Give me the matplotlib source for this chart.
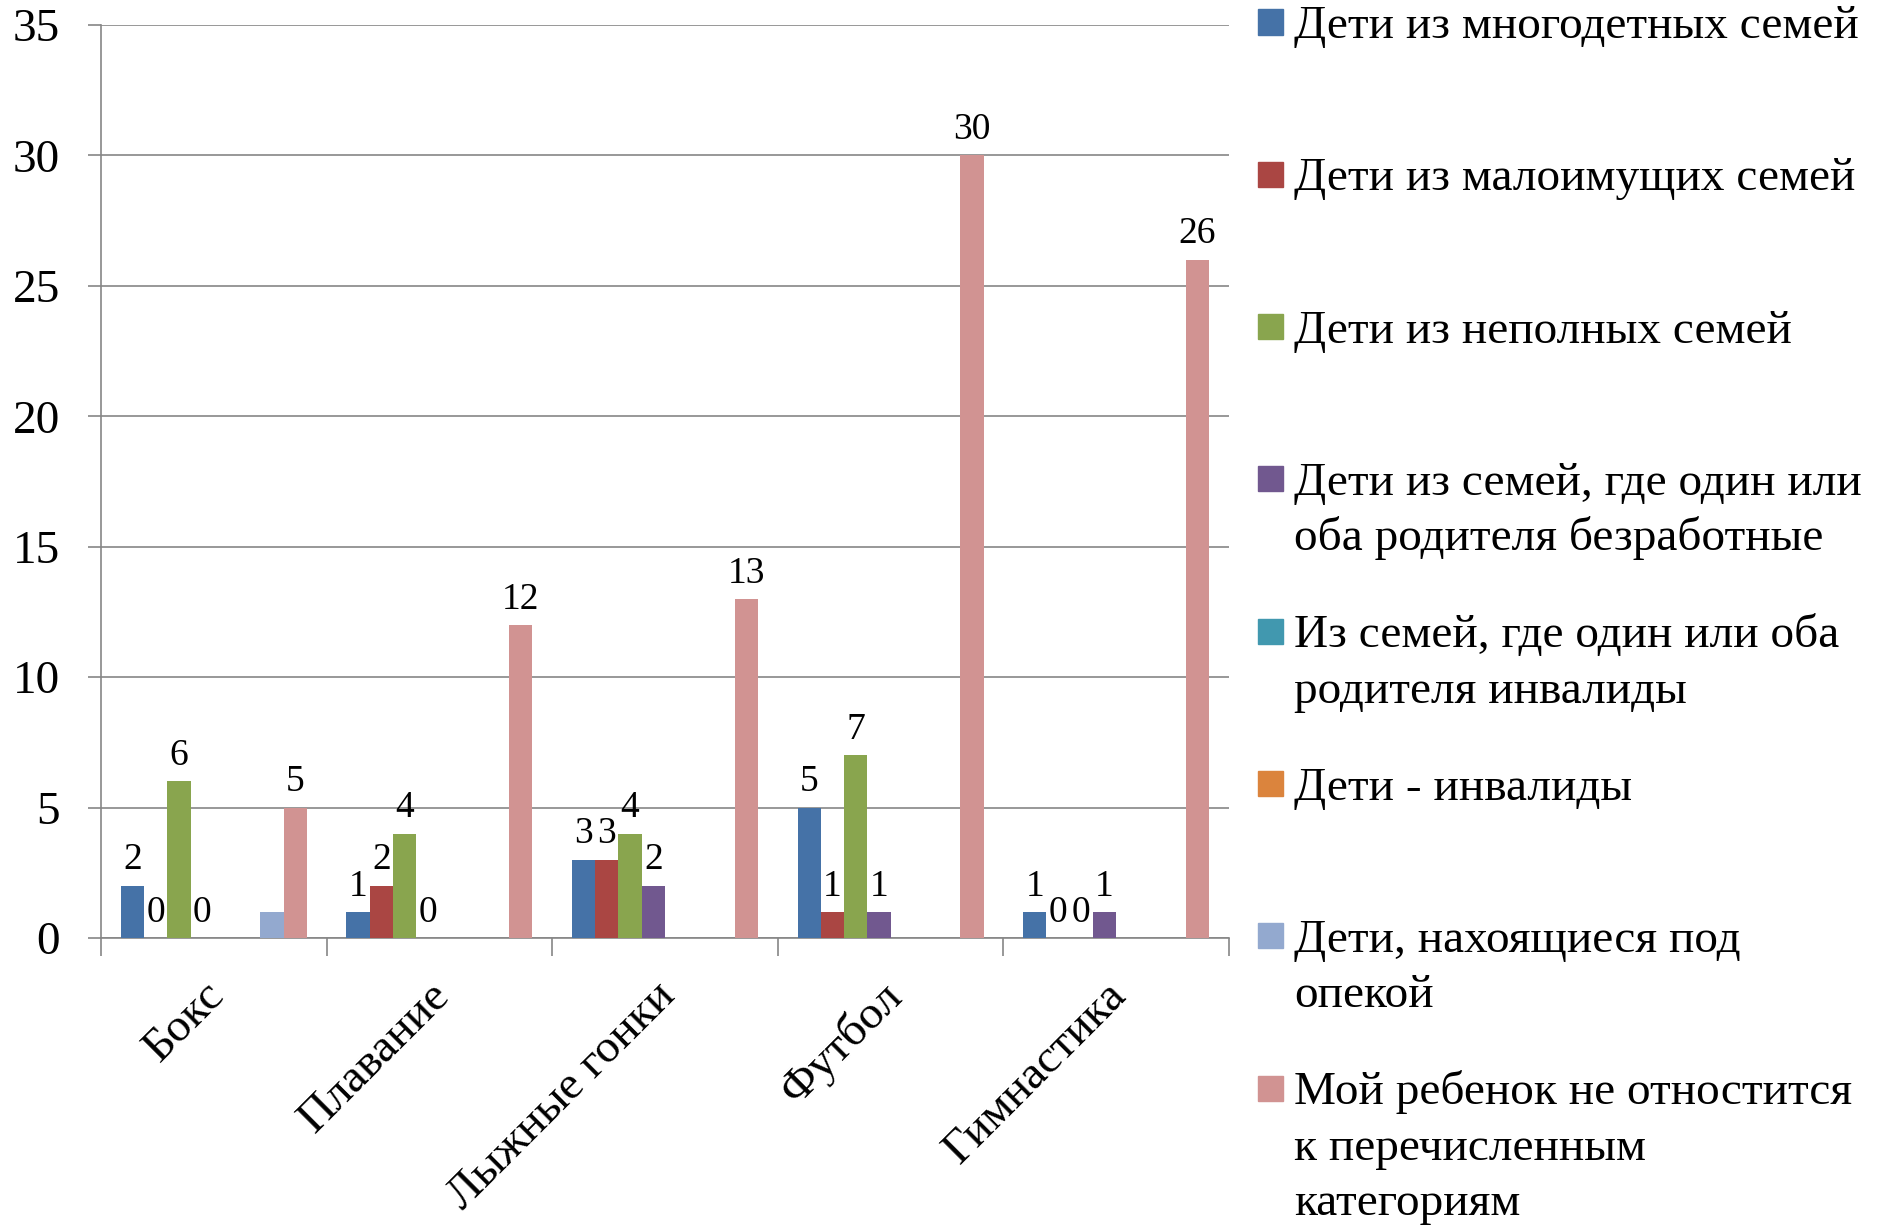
import numpy as np
from matplotlib import pyplot as plt
from matplotlib.patches import Rectangle
from matplotlib.transforms import ScaledTranslation

plt.rcParams['font.family'] = ['Liberation Serif', 'DejaVu Serif']

categories = ['Бокс', 'Плавание', 'Лыжные гонки', 'Футбол', 'Гимнастика']
series_names = [
    'Дети из многодетных семей',
    'Дети из малоимущих семей',
    'Дети из неполных семей',
    'Дети из семей, где один или\nоба родителя безработные',
    'Из семей, где один или оба\nродителя инвалиды',
    'Дети - инвалиды',
    'Дети, нахоящиеся под\nопекой',
    'Мой ребенок не отностится\nк перечисленным\nкатегориям',
]
nan = np.nan
many_children = [2, 1, 3, 5, 1]
low_income = [0, 2, 3, 1, 0]
single_parent = [6, 4, 4, 7, 0]
unemployed = [0, 0, 2, 1, 1]
disabled_parents = [nan, nan, nan, nan, nan]
disabled_kids = [nan, nan, nan, nan, nan]
guardianship = [1, nan, nan, nan, nan]
none_of_these = [5, 12, 13, 30, 26]
values = [many_children, low_income, single_parent, unemployed,
          disabled_parents, disabled_kids, guardianship, none_of_these]
show_labels = [True, True, True, True, True, True, False, True]

colors = ['#4572A7', '#AA4643', '#89A54E', '#71588F',
          '#4198AF', '#DB843D', '#93A9CF', '#D19392']

W, H = 1877, 1225
fig = plt.figure(figsize=(W / 100, H / 100), dpi=100)
ax = fig.add_axes([101 / W, 1 - 938 / H, (1229 - 101) / W, (938 - 25) / H])

n = len(values)
gap = 1.7
bw = 1 / (n + gap)
x = np.arange(len(categories))
for j, (vals, c) in enumerate(zip(values, colors)):
    left = x + gap * bw / 2 + j * bw
    v = np.array(vals, dtype=float)
    ax.bar(left, np.nan_to_num(v), width=bw, align='edge', color=c,
           linewidth=0, zorder=3)
    if show_labels[j]:
        for xi, vi in zip(left, v):
            if np.isnan(vi):
                continue
            ax.annotate(f'{vi:g}', (xi + bw / 2, vi), xytext=(0, 6),
                        textcoords='offset points', ha='center', va='bottom',
                        fontsize=27, zorder=4)

ax.set_xlim(0, len(categories))
ax.set_ylim(0, 35)
ax.set_yticks(np.arange(0, 36, 5))
ax.yaxis.grid(True, color='#868686', linewidth=1.2, zorder=0)
ax.tick_params(axis='y', labelsize=34, length=9.5, width=1.2,
               color='#868686', pad=20)

ax.set_xticks(np.arange(len(categories) + 1), minor=True)
ax.set_xticks(x + 0.5)
ax.set_xticklabels(categories, rotation=45, ha='right',
                   rotation_mode='anchor', fontsize=34)
ax.tick_params(axis='x', which='major', length=0, pad=26)
ax.tick_params(axis='x', which='minor', length=13, width=1.2,
               color='#868686')
shift = ScaledTranslation(-11 / 100, 0, fig.dpi_scale_trans)
for lbl in ax.get_xticklabels():
    lbl.set_transform(lbl.get_transform() + shift)

for s in ['top', 'right']:
    ax.spines[s].set_visible(False)
for s in ['left', 'bottom']:
    ax.spines[s].set_color('#868686')
    ax.spines[s].set_linewidth(1.2)

# legend drawn by hand so every entry sits on its own fixed row
row0 = 22
row_step = 152.3
line_step = 55.5
sq = 25
for j, (name, c) in enumerate(zip(series_names, colors)):
    cy = row0 + j * row_step
    fig.patches.append(Rectangle((1258 / W, 1 - (cy + sq / 2) / H), sq / W, sq / H,
                                 transform=fig.transFigure, color=c))
    for k, line in enumerate(name.split('\n')):
        fig.text(1294 / W, 1 - (cy + 16 + k * line_step) / H, line,
                 fontsize=34, va='baseline', ha='left')

fig.savefig('out.png', dpi=100)
